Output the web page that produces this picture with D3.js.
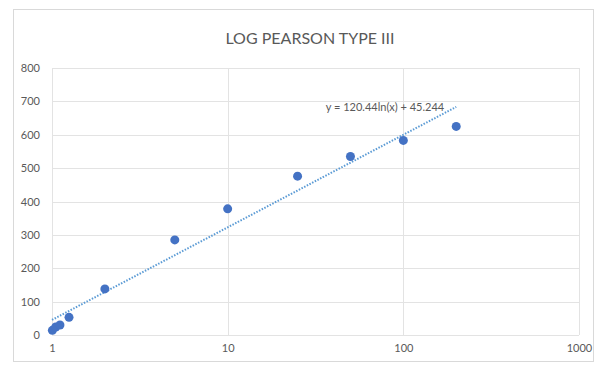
<!DOCTYPE html>
<html>
<head>
<meta charset="utf-8">
<script src="https://cdn.jsdelivr.net/npm/d3@7"></script>
<style>
  body { margin: 0; background: #fff; }
  text { font-family: Lato, "Open Sans", sans-serif; fill: #595959; }
</style>
</head>
<body>
<svg id="chart" width="606" height="367"></svg>
<script>
// return period (years) and discharge values
const returnPeriods = [1.005, 1.05, 1.11, 1.25, 2, 5, 10, 25, 50, 100, 200];
const discharge = [14, 24, 30, 53, 138, 285, 378, 476, 535, 583, 625];
const xTicks = [1, 10, 100, 1000];
const yTicks = [0, 100, 200, 300, 400, 500, 600, 700, 800];
const trendA = 120.44;
const trendB = 45.244;
const trendLabel = 'y = 120.44ln(x) + 45.244';
const title = 'LOG PEARSON TYPE III';

const width = 606;
const height = 367;
const margin = {top: 68, right: 27, bottom: 32, left: 52};

const svg = d3.select('#chart');

// chart frame
svg.append('rect')
  .attr('x', 13.5)
  .attr('y', 9.5)
  .attr('width', 580)
  .attr('height', 352)
  .attr('fill', '#fff')
  .attr('stroke', '#d9d9d9');

const x = d3.scaleLog()
  .domain([1, 1000])
  .range([margin.left, width - margin.right]);

const y = d3.scaleLinear()
  .domain([0, 800])
  .range([height - margin.bottom, margin.top]);

// gridlines
svg.append('g')
  .selectAll('line')
  .data(yTicks)
  .join('line')
  .attr('x1', margin.left)
  .attr('x2', width - margin.right)
  .attr('y1', d => Math.round(y(d)) + 0.5)
  .attr('y2', d => Math.round(y(d)) + 0.5)
  .attr('stroke', '#e3e3e3');

svg.append('g')
  .selectAll('line')
  .data(xTicks)
  .join('line')
  .attr('x1', d => Math.round(x(d)) + 0.5)
  .attr('x2', d => Math.round(x(d)) + 0.5)
  .attr('y1', y(0))
  .attr('y2', y(800))
  .attr('stroke', '#e3e3e3');

// axes (labels only)
const xAxis = svg.append('g')
  .attr('transform', 'translate(0,' + (y(0) + 6) + ')')
  .call(d3.axisBottom(x).tickValues(xTicks).tickFormat(d3.format('d')).tickSize(0));
xAxis.select('.domain').remove();
xAxis.selectAll('text')
  .style('font-size', '11px')
  .style('fill', '#595959');

const yAxis = svg.append('g')
  .attr('transform', 'translate(' + (margin.left - 9) + ',0)')
  .call(d3.axisLeft(y).tickValues(yTicks).tickSize(0));
yAxis.select('.domain').remove();
yAxis.selectAll('text')
  .style('font-size', '11px')
  .style('fill', '#595959');

// title
svg.append('text')
  .attr('x', 310)
  .attr('y', 44)
  .attr('text-anchor', 'middle')
  .style('font-size', '16px')
  .text(title);

// logarithmic trendline
const trendX = d3.range(0, 101).map(i => Math.pow(10, Math.log10(200) * i / 100));
const line = d3.line()
  .x(d => x(d))
  .y(d => y(trendA * Math.log(d) + trendB));

svg.append('path')
  .datum(trendX)
  .attr('d', line)
  .attr('fill', 'none')
  .attr('stroke', '#5b9bd5')
  .attr('stroke-width', 2)
  .attr('stroke-dasharray', '1.5,1.5');

// points
svg.append('g')
  .selectAll('circle')
  .data(returnPeriods)
  .join('circle')
  .attr('cx', d => x(d))
  .attr('cy', (d, i) => y(discharge[i]))
  .attr('r', 4.5)
  .attr('fill', '#4472c4');

// equation label
svg.append('text')
  .attr('x', 385)
  .attr('y', 111)
  .attr('text-anchor', 'middle')
  .style('font-size', '11px')
  .text(trendLabel);
</script>
</body>
</html>
